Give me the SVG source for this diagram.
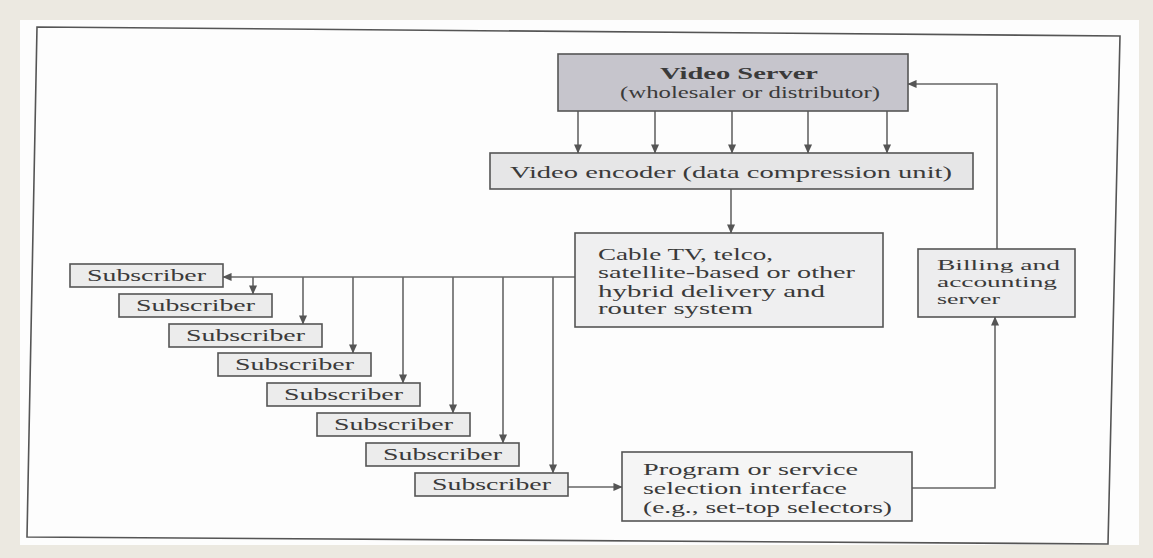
<svg xmlns="http://www.w3.org/2000/svg" width="1153" height="558" viewBox="0 0 1153 558">
  <style>
    .box { stroke: #555; stroke-width: 1.6; }
    .lbl { font-family: "Liberation Serif", "DejaVu Serif", serif; font-size: 17px; fill: #3a3a3a; }
    .small { font-size: 15px; }
    .bold { font-weight: bold; }
    .wire { fill: none; stroke: #666; stroke-width: 1.6; }
    .frame { fill: none; stroke: #555; stroke-width: 1.6; }
  </style>
  <defs>
    <marker id="ah" viewBox="0 0 10 10" refX="9.5" refY="5" markerWidth="9" markerHeight="9" markerUnits="userSpaceOnUse" orient="auto">
      <path d="M0,0.5 L10,5 L0,9.5 Z" fill="#555"/>
    </marker>
  </defs>

  <!-- page and border -->
  <rect x="0" y="0" width="1153" height="558" fill="#ece9e1"/>
  <rect x="20" y="20" width="1119" height="525" fill="#fdfdfd"/>
  <path class="frame" d="M37,27 L1120,36 L1108,544 L27,537 Z"/>

  <!-- connectors -->
  <g id="connectors">
    <!-- video server to encoder -->
    <line class="wire" x1="578" y1="111" x2="578" y2="153" marker-end="url(#ah)"/>
    <line class="wire" x1="655" y1="111" x2="655" y2="153" marker-end="url(#ah)"/>
    <line class="wire" x1="732" y1="111" x2="732" y2="153" marker-end="url(#ah)"/>
    <line class="wire" x1="808" y1="111" x2="808" y2="153" marker-end="url(#ah)"/>
    <line class="wire" x1="887" y1="111" x2="887" y2="153" marker-end="url(#ah)"/>
    <!-- encoder to delivery system -->
    <line class="wire" x1="731" y1="189" x2="731" y2="233" marker-end="url(#ah)"/>
    <!-- delivery system to subscribers -->
    <line class="wire" x1="575" y1="277" x2="223" y2="277" marker-end="url(#ah)"/>
    <line class="wire" x1="253" y1="277" x2="253" y2="294" marker-end="url(#ah)"/>
    <line class="wire" x1="303" y1="277" x2="303" y2="324" marker-end="url(#ah)"/>
    <line class="wire" x1="353" y1="277" x2="353" y2="353" marker-end="url(#ah)"/>
    <line class="wire" x1="403" y1="277" x2="403" y2="383" marker-end="url(#ah)"/>
    <line class="wire" x1="453" y1="277" x2="453" y2="413" marker-end="url(#ah)"/>
    <line class="wire" x1="503" y1="277" x2="503" y2="443" marker-end="url(#ah)"/>
    <line class="wire" x1="553" y1="277" x2="553" y2="473" marker-end="url(#ah)"/>
    <!-- subscriber to selection interface -->
    <line class="wire" x1="568" y1="487" x2="622" y2="487" marker-end="url(#ah)"/>
    <!-- selection interface to billing -->
    <polyline class="wire" points="912,488 995,488 995,317" marker-end="url(#ah)"/>
    <!-- billing back to video server -->
    <polyline class="wire" points="997,249 997,84 908,84" marker-end="url(#ah)"/>
  </g>

  <g id="video-server">
    <rect class="box" x="558" y="54" width="350" height="57" fill="#c6c5cc"/>
    <text class="lbl bold" x="660" y="79" textLength="158" lengthAdjust="spacingAndGlyphs">Video Server</text>
    <text class="lbl" x="620" y="98" textLength="260" lengthAdjust="spacingAndGlyphs">(wholesaler or distributor)</text>
  </g>

  <g id="encoder">
    <rect class="box" x="490" y="153" width="483" height="36" fill="#e6e6e7"/>
    <text class="lbl" x="510" y="178" textLength="442" lengthAdjust="spacingAndGlyphs">Video encoder (data compression unit)</text>
  </g>

  <g id="delivery">
    <rect class="box" x="575" y="233" width="308" height="94" fill="#efeff0"/>
    <text class="lbl" x="598" y="260" textLength="175" lengthAdjust="spacingAndGlyphs">Cable TV, telco,</text>
    <text class="lbl" x="598" y="278" textLength="257" lengthAdjust="spacingAndGlyphs">satellite-based or other</text>
    <text class="lbl" x="598" y="297" textLength="227" lengthAdjust="spacingAndGlyphs">hybrid delivery and</text>
    <text class="lbl" x="598" y="314" textLength="155" lengthAdjust="spacingAndGlyphs">router system</text>
  </g>

  <g id="billing">
    <rect class="box" x="918" y="249" width="157" height="68" fill="#ededee"/>
    <text class="lbl small" x="937" y="270" textLength="123" lengthAdjust="spacingAndGlyphs">Billing and</text>
    <text class="lbl small" x="937" y="287" textLength="120" lengthAdjust="spacingAndGlyphs">accounting</text>
    <text class="lbl small" x="937" y="304" textLength="63" lengthAdjust="spacingAndGlyphs">server</text>
  </g>

  <g id="selection">
    <rect class="box" x="622" y="452" width="290" height="69" fill="#f5f5f5"/>
    <text class="lbl" x="643" y="475" textLength="215" lengthAdjust="spacingAndGlyphs">Program or service</text>
    <text class="lbl" x="643" y="494" textLength="204" lengthAdjust="spacingAndGlyphs">selection interface</text>
    <text class="lbl" x="643" y="513" textLength="249" lengthAdjust="spacingAndGlyphs">(e.g., set-top selectors)</text>
  </g>

  <g id="subscriber-1">
    <rect class="box" x="70" y="264" width="153" height="23" fill="#ececec"/>
    <text class="lbl" x="87" y="281" textLength="119" lengthAdjust="spacingAndGlyphs">Subscriber</text>
  </g>
  <g id="subscriber-2">
    <rect class="box" x="119" y="294" width="153" height="23" fill="#ececec"/>
    <text class="lbl" x="136" y="311" textLength="119" lengthAdjust="spacingAndGlyphs">Subscriber</text>
  </g>
  <g id="subscriber-3">
    <rect class="box" x="169" y="324" width="153" height="23" fill="#ececec"/>
    <text class="lbl" x="186" y="341" textLength="119" lengthAdjust="spacingAndGlyphs">Subscriber</text>
  </g>
  <g id="subscriber-4">
    <rect class="box" x="218" y="353" width="153" height="23" fill="#ececec"/>
    <text class="lbl" x="235" y="370" textLength="119" lengthAdjust="spacingAndGlyphs">Subscriber</text>
  </g>
  <g id="subscriber-5">
    <rect class="box" x="267" y="383" width="153" height="23" fill="#ececec"/>
    <text class="lbl" x="284" y="400" textLength="119" lengthAdjust="spacingAndGlyphs">Subscriber</text>
  </g>
  <g id="subscriber-6">
    <rect class="box" x="317" y="413" width="153" height="23" fill="#ececec"/>
    <text class="lbl" x="334" y="430" textLength="119" lengthAdjust="spacingAndGlyphs">Subscriber</text>
  </g>
  <g id="subscriber-7">
    <rect class="box" x="366" y="443" width="153" height="23" fill="#ececec"/>
    <text class="lbl" x="383" y="460" textLength="119" lengthAdjust="spacingAndGlyphs">Subscriber</text>
  </g>
  <g id="subscriber-8">
    <rect class="box" x="415" y="473" width="153" height="23" fill="#ececec"/>
    <text class="lbl" x="432" y="490" textLength="119" lengthAdjust="spacingAndGlyphs">Subscriber</text>
  </g>
</svg>
